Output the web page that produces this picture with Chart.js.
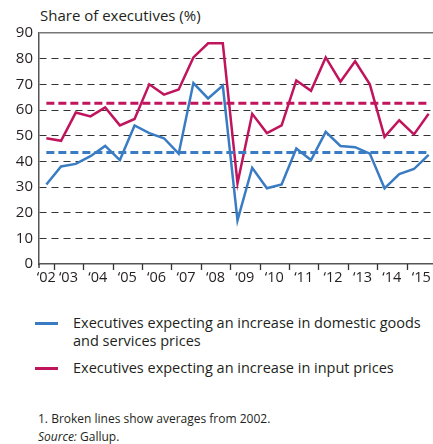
<!DOCTYPE html>
<html>
<head>
<meta charset="utf-8">
<script src="https://cdn.jsdelivr.net/npm/chart.js@4.4.1/dist/chart.umd.min.js"></script>
<style>
    body { margin: 0; width: 433px; height: 444px; overflow: hidden; background: #fff; font-family: "Open Sans", sans-serif; color: #231f20; position: relative; }
    #title { position: absolute; left: 40px; top: 5px; font-size: 15px; }
    #wrap { position: absolute; left: 0; top: 0; width: 436px; height: 290px; }
    .leg { position: absolute; left: 35px; font-size: 14.5px; line-height: 18px; }
    .leg span.sw { position: absolute; left: 0; top: 8px; width: 23px; height: 2.5px; }
    .leg div { margin-left: 38px; }
    #note { position: absolute; left: 38px; top: 410px; font-size: 12px; line-height: 18px; }
</style>
</head>
<body>
<div id="title">Share of executives (%)</div>
<div id="wrap"><canvas id="chart-area"></canvas></div>
<div class="leg" style="top:314px"><span class="sw" style="background:#3a7cc3"></span><div>Executives expecting an increase in domestic goods<br>and services prices</div></div>
<div class="leg" style="top:359px"><span class="sw" style="background:#c0145c"></span><div>Executives expecting an increase in input prices</div></div>
<div id="note">1. Broken lines show averages from 2002.<br><i>Source:</i> Gallup.</div>
<script>
// half-year observations, 2002 H2 .. 2015 H2
const periods = [2002.75, 2003.25, 2003.75, 2004.25, 2004.75, 2005.25, 2005.75, 2006.25, 2006.75,
    2007.25, 2007.75, 2008.25, 2008.75, 2009.25, 2009.75, 2010.25, 2010.75, 2011.25, 2011.75,
    2012.25, 2012.75, 2013.25, 2013.75, 2014.25, 2014.75, 2015.25, 2015.75];
const domesticPrices = [31, 38, 39, 42, 46, 40.5, 54, 51, 49, 43, 70.5, 64.5, 69.5, 17,
    37.5, 29.5, 31, 45, 40.5, 51.5, 46, 45.5, 43, 29.5, 35, 37, 42.5];
const inputPrices = [49, 48, 59, 57.5, 61, 54, 56.5, 70, 66, 68, 80.5, 86, 86, 31.5,
    58.5, 51, 54, 71.5, 67.5, 80.5, 71, 79, 70, 49.5, 56, 50.5, 58.5];
const avgDomestic = 43.4;
const avgInput = 62.6;
const yearLabels = ['02', '03', '04', '05', '06', '07', '08', '09', '10', '11', '12', '13', '14', '15'];
const labelPos = [2002.75, 2003.5, 2004.5, 2005.5, 2006.5, 2007.5, 2008.5, 2009.5, 2010.5, 2011.5, 2012.5, 2013.5, 2014.5, 2015.5];
const yearStarts = [2003, 2004, 2005, 2006, 2007, 2008, 2009, 2010, 2011, 2012, 2013, 2014, 2015];

const blue = '#3a7cc3';
const red = '#c0145c';

function pts(vals) {
    return vals.map((v, i) => ({ x: periods[i], y: v }));
}
function avgLine(v) {
    return [{ x: periods[0], y: v }, { x: periods[periods.length - 1], y: v }];
}

// small tick marks under the x axis at each year boundary
const yearTicks = {
    id: 'yearTicks',
    afterDraw(chart) {
        const c = chart.ctx;
        const xs = chart.scales.x;
        const y0 = chart.chartArea.bottom;
        c.save();
        c.strokeStyle = '#333';
        c.lineWidth = 1.3;
        c.beginPath();
        yearStarts.forEach(v => {
            const px = Math.round(xs.getPixelForValue(v)) + 0.5;
            c.moveTo(px, y0);
            c.lineTo(px, y0 + 6);
        });
        // y axis runs a little below the x axis
        c.moveTo(chart.chartArea.left, y0);
        c.lineTo(chart.chartArea.left, y0 + 4);
        c.stroke();
        c.restore();
    }
};

const ctx = document.getElementById('chart-area').getContext('2d');
new Chart(ctx, {
    type: 'line',
    data: {
        datasets: [
            { data: avgLine(avgDomestic), borderColor: blue, borderWidth: 3, borderDash: [8, 4], pointRadius: 0 },
            { data: avgLine(avgInput), borderColor: red, borderWidth: 3, borderDash: [8, 4], pointRadius: 0 },
            { data: pts(domesticPrices), borderColor: blue, borderWidth: 2.5, pointRadius: 0, tension: 0 },
            { data: pts(inputPrices), borderColor: red, borderWidth: 2.5, pointRadius: 0, tension: 0 }
        ]
    },
    options: {
        responsive: true,
        maintainAspectRatio: false,
        animation: false,
        layout: { padding: { top: 33, left: 0, right: 0, bottom: 0 } },
        plugins: { legend: { display: false }, tooltip: { enabled: false } },
        scales: {
            x: {
                type: 'linear',
                min: 2002.5,
                max: 2016,
                afterBuildTicks: (scale) => {
                    scale.ticks = labelPos.map(v => ({ value: v }));
                },
                afterFit: (scale) => { scale.height = 26; },
                ticks: {
                    autoSkip: false,
                    maxRotation: 0,
                    padding: 5,
                    color: '#231f20',
                    font: { family: 'Open Sans', size: 14.5 },
                    callback: (v, i) => '\u2018' + yearLabels[i]
                },
                grid: { display: false, drawTicks: false },
                border: { color: '#555', width: 1.5 }
            },
            y: {
                min: 0,
                max: 90,
                afterFit: (scale) => { scale.width = 39; },
                ticks: {
                    stepSize: 10,
                    padding: 6,
                    color: '#231f20',
                    font: { family: 'Open Sans', size: 15 }
                },
                grid: {
                    drawTicks: false,
                    color: (c) => c.tick.value === 0 ? 'rgba(0,0,0,0)' : (c.tick.value === 90 ? '#777' : '#333'),
                    lineWidth: (c) => c.tick.value === 90 ? 1.5 : 1
                },
                border: {
                    color: '#555',
                    width: 1.5,
                    dash: (c) => c.tick && c.tick.value === 90 ? [] : [7, 5]
                }
            }
        }
    },
    plugins: [yearTicks]
});
</script>
</body>
</html>
